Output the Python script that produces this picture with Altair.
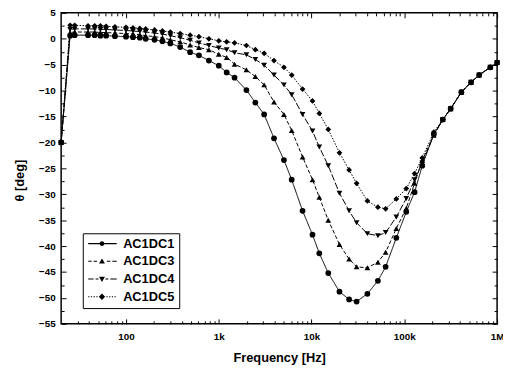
import altair as alt
import pandas as pd

freq = [20, 25, 28, 39, 46, 53, 61, 76, 100, 119,
        141, 163, 203, 247, 301, 384, 491, 611, 783, 1000,
        1217, 1480, 1985, 2480, 3085, 3940, 5040, 6110, 8000, 10240,
        12130, 15150, 20000, 25400, 30600, 40000, 51900, 62900, 82000, 105000,
        129000, 156000, 208000, 260000, 316000, 412000, 524000, 641000, 845000, 1000000]

ac1dc1 = [-20, 0.6, 0.7, 0.7, 0.7, 0.6, 0.6, 0.5, 0.4, 0.3,
          0.2, 0.0, -0.2, -0.5, -0.9, -1.6, -2.6, -3.2, -4.2, -5.2,
          -6.5, -7.5, -9.9, -12.3, -14.6, -19.2, -23.4, -27.2, -33.2, -37.8,
          -41.4, -45.2, -48.8, -50.3, -50.7, -49.2, -46.7, -44.0, -38.4, -33.4,
          -29.6, -24.5, -18.4, -15.6, -13.5, -10.3, -8.4, -7.0, -5.5, -4.6]
ac1dc3 = [-20, 1.2, 1.3, 1.3, 1.3, 1.2, 1.2, 1.1, 1.0, 0.9,
          0.8, 0.6, 0.4, 0.2, -0.2, -0.6, -1.2, -1.7, -2.1, -3.0,
          -3.6, -4.9, -6.0, -7.3, -8.9, -12.2, -14.6, -17.7, -22.8, -27.2,
          -30.6, -35.0, -39.7, -42.5, -44.0, -44.2, -43.1, -41.2, -36.6, -32.7,
          -27.9, -23.5, -18.6, -15.6, -13.5, -10.3, -8.4, -7.0, -5.5, -4.6]
ac1dc4 = [-20, 1.8, 1.9, 1.9, 1.9, 1.8, 1.8, 1.7, 1.6, 1.5,
          1.4, 1.3, 1.1, 0.9, 0.6, 0.2, -0.3, -0.8, -1.3, -1.8,
          -2.1, -2.7, -3.1, -4.0, -5.1, -7.0, -8.9, -10.8, -14.6, -17.8,
          -20.9, -24.5, -29.8, -33.2, -35.5, -37.6, -38.0, -37.4, -34.4, -30.8,
          -27.2, -23.9, -18.6, -15.6, -13.5, -10.3, -8.4, -7.0, -5.5, -4.6]
ac1dc5 = [-20, 2.6, 2.6, 2.5, 2.5, 2.5, 2.4, 2.3, 2.2, 2.1,
          2.0, 1.9, 1.7, 1.5, 1.3, 1.0, 0.7, 0.4, 0.0, -0.4,
          -0.6, -0.8, -1.3, -2.1, -2.8, -4.2, -5.5, -7.0, -9.7, -12.0,
          -14.4, -17.5, -22.0, -25.3, -27.9, -31.3, -32.5, -32.8, -30.9, -28.9,
          -26.0, -23.0, -18.0, -15.6, -13.5, -10.3, -8.4, -7.0, -5.5, -4.6]

series_names = ["AC1DC1", "AC1DC3", "AC1DC4", "AC1DC5"]
series_values = [ac1dc1, ac1dc3, ac1dc4, ac1dc5]

x_major = [100, 1000, 10000, 100000, 1000000]
x_minor = [30, 40, 50, 60, 70, 80, 90,
           200, 300, 400, 500, 600, 700, 800, 900,
           2000, 3000, 4000, 5000, 6000, 7000, 8000, 9000,
           20000, 30000, 40000, 50000, 60000, 70000, 80000, 90000,
           200000, 300000, 400000, 500000, 600000, 700000, 800000, 900000]
y_major = [-55, -50, -45, -40, -35, -30, -25, -20, -15, -10, -5, 0, 5]
y_minor = [-52.5, -47.5, -42.5, -37.5, -32.5, -27.5, -22.5, -17.5, -12.5, -7.5, -2.5, 2.5]

rows = []
for name, vals in zip(series_names, series_values):
    for f, v in zip(freq, vals):
        rows.append({"freq": f, "theta": v, "series": name})
df = pd.DataFrame(rows)

W, H = 443, 316
FONT = "Liberation Sans"

xscale = alt.Scale(type="log", domain=[20, 1000000], nice=False)
yscale = alt.Scale(domain=[-55, 5], nice=False, zero=False)

dash_range = [[1, 0], [4, 2], [7, 2], [1.5, 1.5]]
shape_range = ["circle", "triangle-up", "triangle-down", "diamond"]


# legend symbols: filled thin bars for the line pattern + marker (unit = 5 px)
def bars(segs):
    return "".join(f"M{a},-0.11H{b}V0.11H{a}Z" for a, b in segs)


legend_paths = [
    bars([(-1, 1.35), (2.25, 4.8)]) + "M1.3,0A0.5,0.5 0 1,1 2.3,0A0.5,0.5 0 1,1 1.3,0Z",
    bars([(-1, -0.3), (0.1, 0.8), (2.8, 3.5), (3.9, 4.8)]) + "M1.2,0.45L2.4,0.45L1.8,-0.6Z",
    bars([(-1, 0.1), (0.5, 1.1), (2.5, 3.1), (3.5, 4.8)]) + "M1.2,-0.45L2.4,-0.45L1.8,0.6Z",
    bars([(-1, -0.75), (-0.45, -0.2), (0.1, 0.35), (0.65, 0.9), (2.7, 2.95), (3.25, 3.5), (3.8, 4.05), (4.35, 4.6)])
    + "M1.8,-0.65L2.45,0L1.8,0.65L1.15,0Z",
]

x_main_axis = alt.Axis(
    orient="bottom", values=x_major, ticks=False, tickSize=0, domain=False,
    grid=True, gridDash=[5, H - 10], gridColor="black", gridOpacity=1, gridWidth=1,
    labelExpr="datum.value >= 1000000 ? '1M' : datum.value >= 1000 ? (datum.value/1000) + 'k' : datum.value",
    labelFlush=False, labelPadding=8, labelFontSize=10, labelFontWeight="bold",
    labelFont=FONT, labelColor="black",
    title="Frequency [Hz]", titleFont=FONT, titleFontSize=13, titleFontWeight="bold",
    titleColor="black", titleX=W / 2, titleY=34, titleBaseline="middle", titleAlign="center",
)
y_main_axis = alt.Axis(
    orient="left", values=y_major, ticks=False, tickSize=0, domain=False,
    grid=True, gridDash=[5, W - 10], gridColor="black", gridOpacity=1, gridWidth=1,
    labelPadding=6, labelFontSize=10, labelFontWeight="bold", labelFont=FONT,
    labelColor="black",
    title="θ [deg]", titleFont=FONT, titleFontSize=13, titleFontWeight="bold",
    titleColor="black", titleX=-42, titleY=170, titleAngle=270,
    titleBaseline="middle", titleAlign="center",
)

lines = alt.Chart(df).mark_line(color="black", strokeWidth=1).encode(
    x=alt.X("freq:Q", scale=xscale, axis=x_main_axis),
    y=alt.Y("theta:Q", scale=yscale, axis=y_main_axis),
    strokeDash=alt.StrokeDash("series:N", scale=alt.Scale(domain=series_names, range=dash_range), legend=None),
    detail="series:N",
)

points = alt.Chart(df).mark_point(filled=True, color="black", size=34, opacity=1).encode(
    x=alt.X("freq:Q", scale=xscale, axis=None),
    y=alt.Y("theta:Q", scale=yscale, axis=None),
    shape=alt.Shape("series:N", scale=alt.Scale(domain=series_names, range=shape_range), legend=None),
)

legend_layer = alt.Chart(df).transform_filter("false").mark_point(
    filled=True, color="black", size=100
).encode(
    x=alt.X("freq:Q", scale=xscale, axis=None),
    y=alt.Y("theta:Q", scale=yscale, axis=None),
    shape=alt.Shape(
        "series:N",
        scale=alt.Scale(domain=series_names, range=legend_paths),
        legend=alt.Legend(
            title=None, orient="none", legendX=22, legendY=224,
            symbolSize=100, symbolFillColor="black", symbolOpacity=1,
            labelFont=FONT, labelFontSize=13, labelFontWeight="bold", labelColor="black",
            labelOffset=24, rowPadding=4, padding=4,
            strokeColor="black", fillColor="white",
        ),
    ),
)

minor_layer = alt.Chart(df).transform_filter("false").mark_point().encode(
    x=alt.X("freq:Q", scale=xscale, axis=alt.Axis(
        orient="top", values=x_minor, labels=False, ticks=False, tickSize=0, domain=False,
        grid=True, gridDash=[3, H - 6], gridColor="black", gridOpacity=1, gridWidth=1,
        title=None)),
    y=alt.Y("theta:Q", scale=yscale, axis=alt.Axis(
        orient="right", values=y_minor, labels=False, ticks=False, tickSize=0, domain=False,
        grid=True, gridDash=[3, W - 6], gridColor="black", gridOpacity=1, gridWidth=1,
        title=None)),
)

chart = alt.layer(lines, points, legend_layer, minor_layer).resolve_scale(
    shape="independent"
).resolve_axis(
    x="independent", y="independent"
).properties(
    width=W, height=H,
    padding={"left": 54, "top": 2, "right": 6, "bottom": 44},
    autosize=alt.AutoSizeParams(type="none"),
    background="white",
).configure_view(
    stroke="black", strokeWidth=1.5
)

chart.save("out.html", embed_options={"renderer": "svg", "actions": False})
